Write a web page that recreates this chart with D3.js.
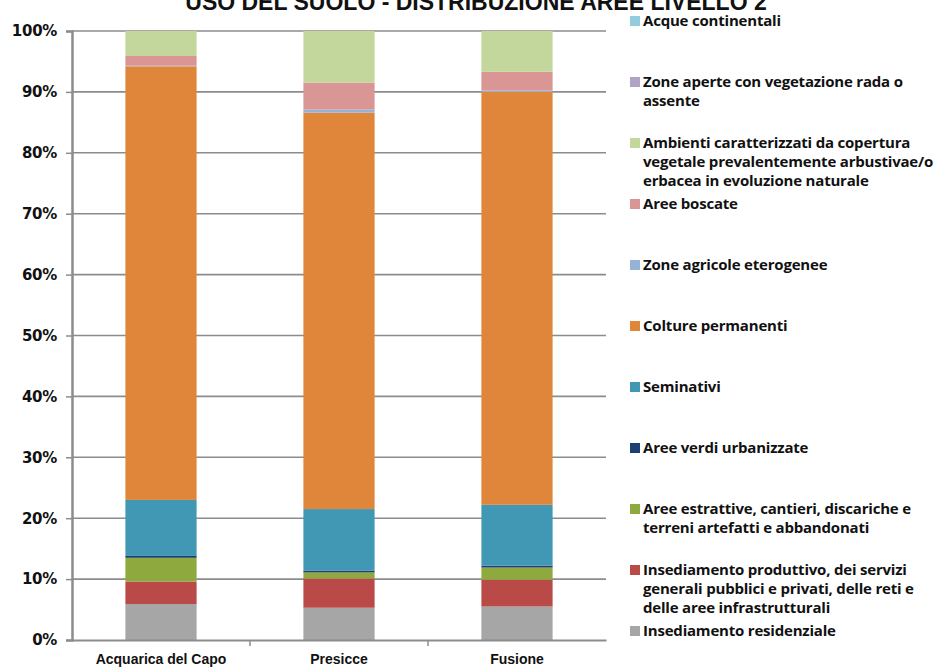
<!DOCTYPE html>
<html><head><meta charset="utf-8">
<script src="https://cdn.jsdelivr.net/npm/d3@7"></script>
<style>
html,body{margin:0;padding:0;background:#fff;}
svg text{font-family:"Liberation Sans",Arial,sans-serif;font-weight:bold;fill:#111;}
</style></head>
<body><svg id="chart" width="941" height="672"></svg>
<script>
const title = "USO DEL SUOLO - DISTRIBUZIONE AREE LIVELLO 2";
const categories = ["Acquarica del Capo", "Presicce", "Fusione"];
// series listed bottom-to-top of the stack
const seriesNames = [
  "Insediamento residenziale",
  "Insediamento produttivo, dei servizi generali pubblici e privati, delle reti e delle aree infrastrutturali",
  "Aree estrattive, cantieri, discariche e terreni artefatti e abbandonati",
  "Aree verdi urbanizzate",
  "Seminativi",
  "Colture permanenti",
  "Zone agricole eterogenee",
  "Aree boscate",
  "Ambienti caratterizzati da copertura vegetale prevalentemente arbustivae/o erbacea in evoluzione naturale",
  "Zone aperte con vegetazione rada o assente",
  "Acque continentali"
];
const legendLines = [
  ["Insediamento residenziale"],
  ["Insediamento produttivo, dei servizi", "generali pubblici e privati, delle reti e", "delle aree infrastrutturali"],
  ["Aree estrattive, cantieri, discariche e", "terreni artefatti e abbandonati"],
  ["Aree verdi urbanizzate"],
  ["Seminativi"],
  ["Colture permanenti"],
  ["Zone agricole eterogenee"],
  ["Aree boscate"],
  ["Ambienti caratterizzati da copertura", "vegetale prevalentemente arbustivae/o", "erbacea in evoluzione naturale"],
  ["Zone aperte con vegetazione rada o", "assente"],
  ["Acque continentali"]
];
const seriesColors = ["#a6a6a6","#b94a48","#8eaa3e","#1f3f6e","#4198b5","#df863a","#95b3d7","#d99694","#c3d69b","#b3a2c7","#93cddd"];
// values in percent, per series (bottom-to-top), per category
const residenziale = [5.9, 5.3, 5.5];
const produttivo   = [3.7, 4.8, 4.4];
const estrattive   = [3.9, 1.0, 2.0];
const verdiUrb     = [0.3, 0.3, 0.3];
const seminativi   = [9.2, 10.1, 10.0];
const colture      = [71.2, 65.1, 67.8];
const agricoleEter = [0.1, 0.5, 0.2];
const boscate      = [1.6, 4.4, 3.1];
const ambienti     = [4.1, 8.5, 6.7];
const zoneAperte   = [0, 0, 0];
const acque        = [0, 0, 0];
const yTicks = [0,10,20,30,40,50,60,70,80,90,100];

const seriesValues = [residenziale, produttivo, estrattive, verdiUrb, seminativi, colture, agricoleEter, boscate, ambienti, zoneAperte, acque];

const svg = d3.select("#chart");
const mLeft = 72, mRight = 606, mTop = 31, mBottom = 640;

const x = d3.scaleBand().domain(categories).range([mLeft, mRight]).paddingInner(0).paddingOuter(0);
const y = d3.scaleLinear().domain([0, 100]).range([mBottom, mTop]);
const barW = x.bandwidth() * 0.4;

// title (cut off at top like reference)
svg.append("text").attr("x", 476).attr("y", 10).attr("text-anchor", "middle")
  .style("font-size", "23px").text(title);

// gridlines
svg.append("g").selectAll("line").data(yTicks.filter(d => d > 0)).join("line")
  .attr("x1", mLeft).attr("x2", mRight).attr("y1", d => y(d)).attr("y2", d => y(d))
  .attr("stroke", "#8c8c8c").attr("stroke-width", 1.6);

// stacked data
const rows = categories.map((c, i) => {
  const o = {cat: c};
  seriesNames.forEach((s, k) => o[s] = seriesValues[k][i]);
  return o;
});
const stacked = d3.stack().keys(seriesNames)(rows);

svg.append("g").selectAll("g").data(stacked).join("g")
  .attr("fill", (d, i) => seriesColors[i])
  .selectAll("rect").data(d => d).join("rect")
  .attr("x", d => x(d.data.cat) + (x.bandwidth() - barW) / 2)
  .attr("width", barW)
  .attr("y", d => y(d[1]))
  .attr("height", d => Math.max(0, y(d[0]) - y(d[1])));

// y axis
const yAxis = d3.axisLeft(y).tickValues(yTicks).tickFormat(d => d + "%").tickSize(6).tickPadding(9);
const gy = svg.append("g").attr("transform", `translate(${mLeft},0)`).call(yAxis);
gy.select(".domain").attr("stroke", "#8c8c8c").attr("stroke-width", 2.5);
gy.selectAll(".tick line").attr("stroke", "#8c8c8c").attr("stroke-width", 1.5);
gy.selectAll(".tick text").style("font-size", "15px").style("font-family", "'DejaVu Sans',Verdana,sans-serif").style("font-weight", "bold").style("letter-spacing", "-0.3px").attr("fill", "#111");

// x axis
const xAxis = d3.axisBottom(x).tickSize(0).tickPadding(14);
const gx = svg.append("g").attr("transform", `translate(0,${mBottom})`).call(xAxis);
gx.select(".domain").attr("stroke", "#8c8c8c").attr("stroke-width", 2);
gx.selectAll(".tick text").style("font-size", "14px").style("font-family", "'Liberation Sans',Arial,sans-serif").style("font-weight", "bold").attr("fill", "#111");
// category separator ticks
gx.append("g").selectAll("line").data(categories.slice(1)).join("line")
  .attr("x1", d => x(d)).attr("x2", d => x(d)).attr("y1", 0).attr("y2", 6)
  .attr("stroke", "#8c8c8c").attr("stroke-width", 1.5);

// legend (top = last series)
const legendY0 = 21, legendStep = 61, lineH = 19;
const lg = svg.append("g");
const order = d3.range(seriesNames.length).reverse();
order.forEach((k, j) => {
  const yy = legendY0 + j * legendStep;
  lg.append("rect").attr("x", 630).attr("y", yy - 5).attr("width", 10).attr("height", 10).attr("fill", seriesColors[k]);
  legendLines[k].forEach((ln, li) => {
    lg.append("text").attr("x", 643).attr("y", yy + li * lineH + 5)
      .style("font-family", "'Open Sans','Liberation Sans',sans-serif")
      .style("font-size", "15px").style("letter-spacing", "-0.2px").text(ln);
  });
});
</script></body></html>
